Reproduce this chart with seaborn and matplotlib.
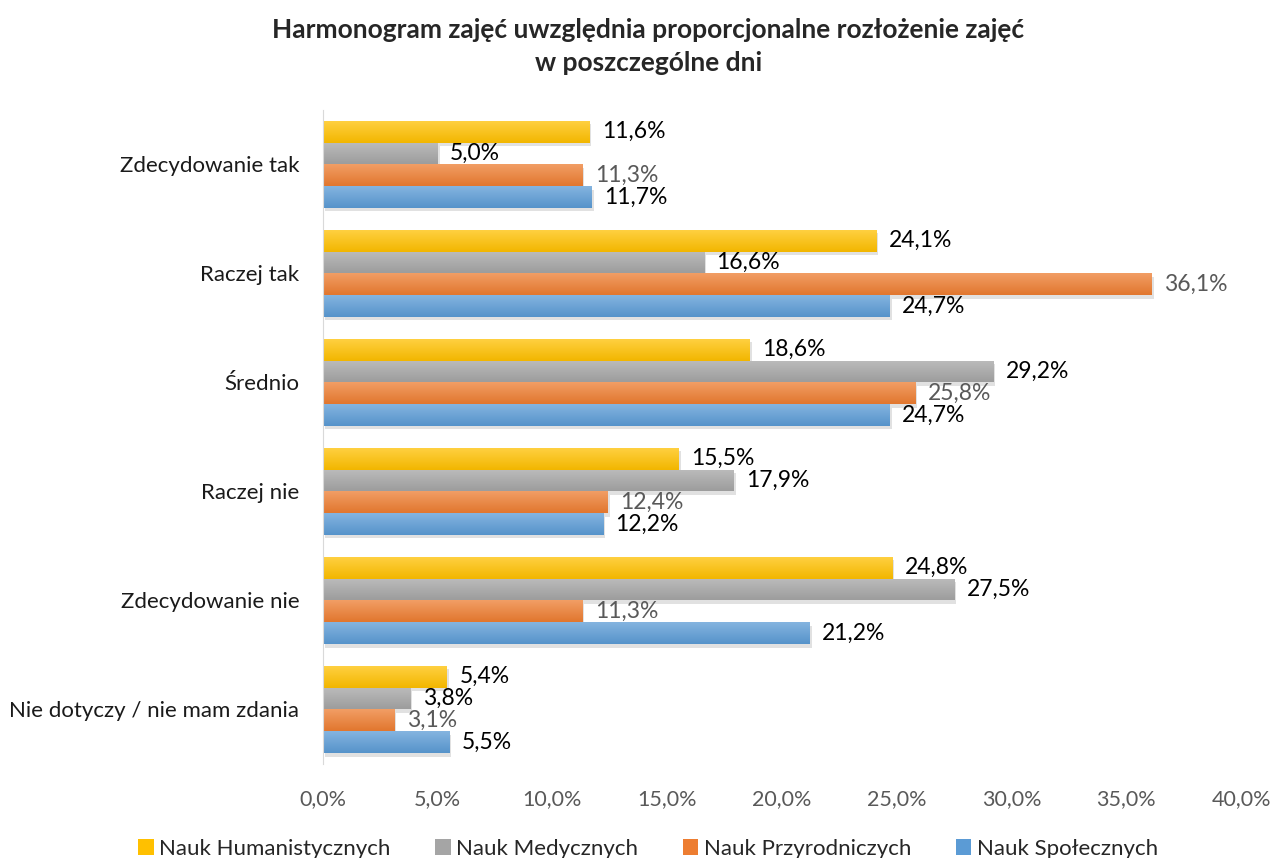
import numpy as np
import pandas as pd
import seaborn as sns
import matplotlib
matplotlib.use('Agg')
import matplotlib.pyplot as plt
import matplotlib.patheffects as pe
from matplotlib.colors import to_rgb

# data
categories = ['Zdecydowanie tak', 'Raczej tak', 'Średnio', 'Raczej nie',
              'Zdecydowanie nie', 'Nie dotyczy / nie mam zdania']
series = ['Nauk Humanistycznych', 'Nauk Medycznych', 'Nauk Przyrodniczych', 'Nauk Społecznych']
humanistyczne = [11.6, 24.1, 18.6, 15.5, 24.8, 5.4]
medyczne = [5.0, 16.6, 29.2, 17.9, 27.5, 3.8]
przyrodnicze = [11.3, 36.1, 25.8, 12.4, 11.3, 3.1]
spoleczne = [11.7, 24.7, 24.7, 12.2, 21.2, 5.5]

colors = ['#FFC000', '#A5A5A5', '#ED7D31', '#5B9BD5']
label_colors = ['black', 'black', '#595959', 'black']

rows = []
for s, vals in zip(series, [humanistyczne, medyczne, przyrodnicze, spoleczne]):
    for c, v in zip(categories, vals):
        rows.append({'kategoria': c, 'seria': s, 'wartosc': v})
df = pd.DataFrame(rows)

sns.set_style('white')
plt.rcParams['font.family'] = ['Lato', 'DejaVu Sans']

fig = plt.figure(figsize=(12.76, 8.58), dpi=100)
ax = fig.add_axes([0.2531, 0.1096, 0.7195, 0.7624])

sns.barplot(data=df, y='kategoria', x='wartosc', hue='seria', order=categories,
            hue_order=series, palette=colors, orient='h', width=0.8,
            saturation=1, ax=ax, errorbar=None, linewidth=0)

handles, labels = ax.get_legend_handles_labels()
ax.get_legend().remove()

def mix(c, other, t):
    c = np.array(to_rgb(c)); o = np.array(to_rgb(other))
    return c * (1 - t) + o * t

for i, s in enumerate(series):
    cont = ax.containers[i]
    col = colors[i]
    grad = np.linspace(0, 1, 32)[:, None, None]
    top = mix(col, 'white', 0.25)
    bot = mix(col, 'black', 0.05)
    img = top * (1 - grad) + bot * grad
    for p in cont:
        p.set_linewidth(0)
        p.set_path_effects([pe.SimplePatchShadow(offset=(1.5, -2.5), alpha=0.25,
                                                 shadow_rgbFace='#8a8a8a'), pe.Normal()])
        x0, y0 = p.get_x(), p.get_y()
        w, h = p.get_width(), p.get_height()
        im = ax.imshow(img, extent=(x0, x0 + w, y0 + h, y0), aspect='auto',
                       zorder=p.get_zorder() + 0.1, interpolation='bilinear')
        im.set_clip_path(p)
    vals = [p.get_width() for p in cont]
    ax.bar_label(cont, labels=[f'{v:.1f}'.replace('.', ',') + '%' for v in vals],
                 padding=9, fontsize=16.5, color=label_colors[i])

ax.set_xlim(0, 40)
ax.set_ylim(5.5, -0.5)
ax.set_xticks(np.arange(0, 41, 5))
ax.set_xticklabels([f'{t:.1f}'.replace('.', ',') + '%' for t in np.arange(0, 41, 5)],
                   fontsize=15.5, color='#595959')
ax.tick_params(axis='x', length=0, pad=18)
ax.tick_params(axis='y', length=0, pad=17, labelsize=16, labelcolor='#1a1a1a')
ax.set_xlabel('')
ax.set_ylabel('')
for sp in ['top', 'right', 'bottom']:
    ax.spines[sp].set_visible(False)
ax.spines['left'].set_color('#d9d9d9')

fig.text(0.508, 0.946, 'Harmonogram zajęć uwzględnia proporcjonalne rozłożenie zajęć\nw poszczególne dni',
         ha='center', va='center', fontsize=19, fontweight='bold', linespacing=1.45)

fig.legend(handles, labels, loc='lower center', bbox_to_anchor=(0.508, -0.024), ncol=4,
           frameon=False, fontsize=16, handlelength=0.7, handleheight=0.7,
           handletextpad=0.25, columnspacing=2.0)

fig.savefig('out.png', dpi=100)
